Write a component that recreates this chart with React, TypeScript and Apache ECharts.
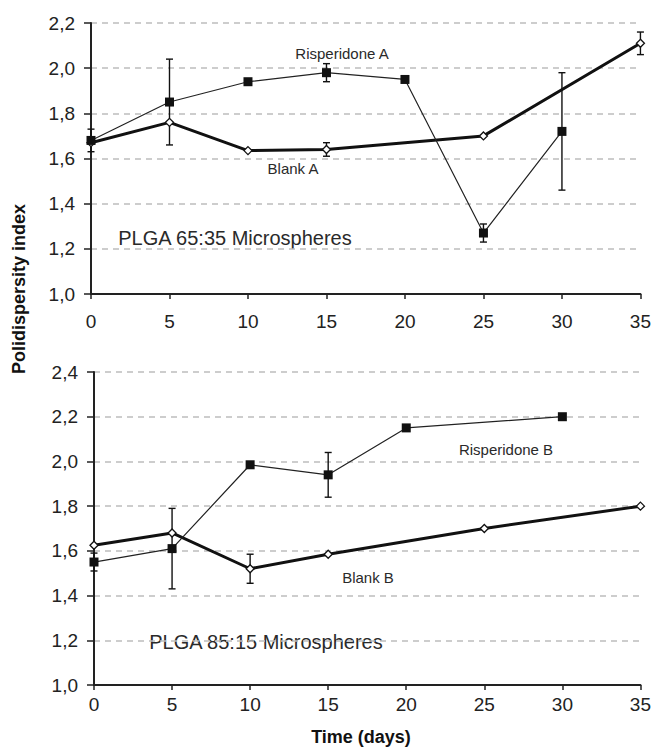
import React, { useEffect, useRef } from "react";
import * as echarts from "echarts";

const days = [0, 5, 10, 15, 20, 25, 30, 35];

// PLGA 65:35
const risperidoneA = [1.68, 1.85, 1.94, 1.98, 1.95, 1.27, 1.72, null];
const risperidoneAErr = [0.05, 0.19, null, 0.04, null, 0.04, 0.26, null];
const blankA = [1.67, 1.76, 1.635, 1.64, null, 1.7, null, 2.11];
const blankAErr = [null, null, null, 0.03, null, null, null, 0.05];

// PLGA 85:15
const risperidoneB = [1.55, 1.61, 1.985, 1.94, 2.15, null, 2.2, null];
const risperidoneBErr = [0.04, 0.18, null, 0.1, null, null, null, null];
const blankB = [1.625, 1.68, 1.52, 1.585, null, 1.7, null, 1.8];
const blankBErr = [null, null, 0.065, null, null, null, null, null];

const xTicks = { min: 0, max: 35, interval: 5 };
const yTop = { min: 1.0, max: 2.2, interval: 0.2 };
const yBottom = { min: 1.0, max: 2.4, interval: 0.2 };

const FONT = "'Liberation Sans', Arial, sans-serif";
const INK = "#111";

function pairs(vals: (number | null)[]) {
  return days
    .map((d, i) => (vals[i] == null ? null : [d, vals[i] as number]))
    .filter((p) => p !== null) as number[][];
}
function errPairs(vals: (number | null)[], errs: (number | null)[]) {
  return days
    .map((d, i) =>
      vals[i] == null || errs[i] == null ? null : [d, vals[i] as number, errs[i] as number]
    )
    .filter((p) => p !== null) as number[][];
}

function errorSeries(data: number[][], idx: number) {
  return {
    type: "custom",
    xAxisIndex: idx,
    yAxisIndex: idx,
    z: 3,
    data,
    encode: { x: 0, y: 1 },
    renderItem: (params: any, api: any) => {
      const x = api.value(0);
      const y = api.value(1);
      const e = api.value(2);
      const hi = api.coord([x, y + e]);
      const lo = api.coord([x, y - e]);
      const w = 3.5;
      const style = { stroke: INK, lineWidth: 1.4 };
      return {
        type: "group",
        children: [
          { type: "line", shape: { x1: hi[0], y1: hi[1], x2: lo[0], y2: lo[1] }, style },
          { type: "line", shape: { x1: hi[0] - w, y1: hi[1], x2: hi[0] + w, y2: hi[1] }, style },
          { type: "line", shape: { x1: lo[0] - w, y1: lo[1], x2: lo[0] + w, y2: lo[1] }, style },
        ],
      };
    },
  };
}

function risperidoneSeries(data: number[][], idx: number) {
  return {
    type: "line",
    xAxisIndex: idx,
    yAxisIndex: idx,
    data,
    z: 4,
    symbol: "rect",
    symbolSize: 9,
    itemStyle: { color: INK, borderColor: INK, borderWidth: 0 },
    lineStyle: { color: "#222", width: 1.2 },
  };
}
function blankSeries(data: number[][], idx: number) {
  return {
    type: "line",
    xAxisIndex: idx,
    yAxisIndex: idx,
    data,
    z: 3,
    symbol: "diamond",
    symbolSize: 8,
    itemStyle: { color: "#fff", borderColor: INK, borderWidth: 1.3 },
    lineStyle: { color: INK, width: 3 },
  };
}

const fmt = (v: number) => v.toFixed(1).replace(".", ",");

function xAxisDef(idx: number, margin: number) {
  return {
    type: "value",
    gridIndex: idx,
    ...xTicks,
    axisLine: { show: true, onZero: false, lineStyle: { color: "#222", width: 2 } },
    axisTick: { show: true, length: 5, lineStyle: { color: "#222", width: 1.5 } },
    axisLabel: { fontFamily: FONT, fontSize: 19, color: "#222", margin },
    splitLine: { show: false },
  };
}
function yAxisDef(idx: number, range: any) {
  return {
    type: "value",
    gridIndex: idx,
    ...range,
    axisLine: { show: true, onZero: false, lineStyle: { color: "#222", width: 2 } },
    axisTick: { show: true, length: 7, lineStyle: { color: "#222", width: 1.5 } },
    axisLabel: { fontFamily: FONT, fontSize: 19, color: "#222", margin: 16, formatter: fmt },
    splitLine: { show: true, lineStyle: { color: "#bdbdbd", width: 1.5, type: [6, 5] } },
  };
}

function note(text: string, x: number, y: number, size: number, extra: any = {}) {
  return {
    type: "text",
    x,
    y,
    style: {
      text,
      fontFamily: FONT,
      fontSize: size,
      fill: "#2a2a2a",
      textAlign: "center",
      textVerticalAlign: "middle",
      ...extra,
    },
  };
}

export default function App() {
  const ref = useRef<HTMLDivElement>(null);
  useEffect(() => {
    if (!ref.current) return;
    const chart = echarts.init(ref.current, null, { renderer: "svg" });
    chart.setOption({
      animation: false,
      backgroundColor: "#fff",
      grid: [
        { left: 91, top: 23, width: 550, height: 271 },
        { left: 94, top: 372, width: 548, height: 313 },
      ],
      xAxis: [xAxisDef(0, 18), xAxisDef(1, 10)],
      yAxis: [yAxisDef(0, yTop), yAxisDef(1, yBottom)],
      series: [
        blankSeries(pairs(blankA), 0),
        risperidoneSeries(pairs(risperidoneA), 0),
        errorSeries(errPairs(risperidoneA, risperidoneAErr), 0),
        errorSeries(errPairs(blankA, blankAErr), 0),
        blankSeries(pairs(blankB), 1),
        risperidoneSeries(pairs(risperidoneB), 1),
        errorSeries(errPairs(risperidoneB, risperidoneBErr), 1),
        errorSeries(errPairs(blankB, blankBErr), 1),
      ],
      graphic: [
        note("Risperidone A", 342, 53, 15),
        note("Blank A", 293, 168, 15),
        note("PLGA 65:35 Microspheres", 235, 238, 20),
        note("Risperidone B", 506, 449, 15),
        note("Blank B", 368, 577, 15),
        note("PLGA 85:15 Microspheres", 266, 642, 20),
        note("Time (days)", 361, 737, 18, { fontWeight: "bold", fill: "#111" }),
        {
          type: "text",
          x: 19,
          y: 289,
          rotation: Math.PI / 2,
          style: {
            text: "Polidispersity index",
            fontFamily: FONT,
            fontSize: 18,
            fontWeight: "bold",
            fill: "#111",
            textAlign: "center",
            textVerticalAlign: "middle",
          },
        },
      ],
    });
    return () => chart.dispose();
  }, []);
  return (
    <div
      ref={ref}
      style={{ position: "fixed", left: 0, top: 0, width: 654, height: 754, background: "#fff" }}
    />
  );
}
